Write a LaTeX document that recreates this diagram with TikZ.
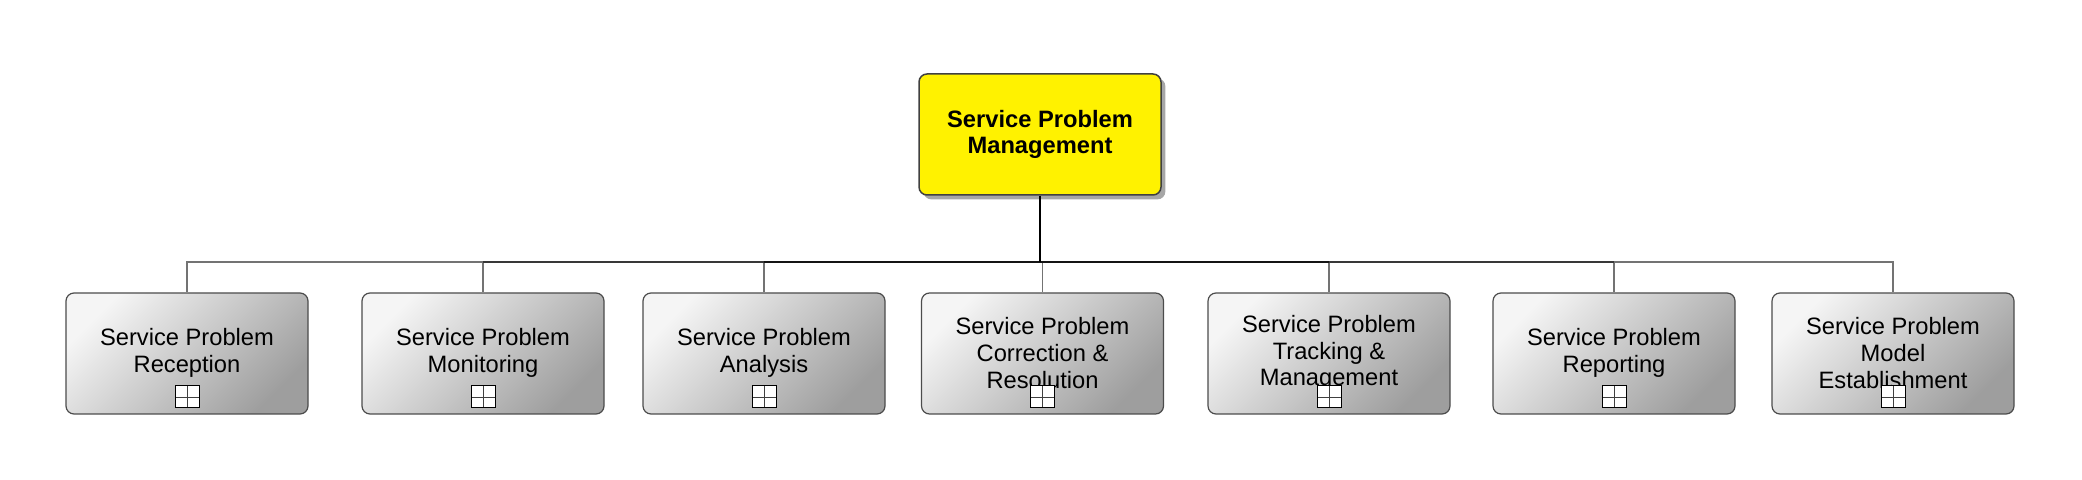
\documentclass[tikz,border=0pt]{standalone}
\usepackage{fontspec}
\setmainfont{Liberation Sans}
\usetikzlibrary{shadows}
\definecolor{boxyellow}{HTML}{FFF200}
\begin{document}
\begin{tikzpicture}[x=0.5pt,y=-0.5pt,
  lbl/.style={font=\fontsize{11.85}{13.3}\selectfont, align=center, inner sep=0pt, text=black},
  topbox/.style={draw=black!75, line width=0.75pt, rounded corners=4pt, fill=boxyellow,
    minimum width=121pt, minimum height=60.5pt, inner sep=0pt,
    drop shadow={shadow xshift=2.2pt, shadow yshift=-2.2pt, fill=black!35, opacity=1},
    font=\bfseries\fontsize{11.85}{13.3}\selectfont, align=center},
  childbox/.style={draw=black!70, line width=0.6pt, rounded corners=4pt,
    minimum width=121pt, minimum height=60.5pt, inner sep=0pt,
    top color=black!4, bottom color=black!38, shading angle=45},
  plusbox/.style={draw=black, line width=0.5pt, fill=white, minimum width=12pt, minimum height=11pt, inner sep=0pt,
    path picture={\draw[line width=0.35pt, black!75] (path picture bounding box.north) -- (path picture bounding box.south)
      (path picture bounding box.west) -- (path picture bounding box.east);}},
  conn/.style={draw=black!55, line width=0.7pt},
  bustwo/.style={draw=black!78, line width=1pt},
  busthree/.style={draw=black!92, line width=1pt},
  stem/.style={draw=black, line width=1pt}]
\useasboundingbox (0,0) rectangle (2082,480);
\node[topbox] (top) at (1040,134.5) {Service Problem\\Management};
\coordinate (bus) at (1040,262);
\foreach \n/\x/\t in {1/187/{Service Problem\\Reception},
                      2/483/{Service Problem\\Monitoring},
                      3/764/{Service Problem\\Analysis},
                      4/1042.5/{Service Problem\\Correction \&\\Resolution},
                      5/1329/{Service Problem\\Tracking \&\\Management},
                      6/1614/{Service Problem\\Reporting},
                      7/1893/{Service Problem\\Model\\Establishment}}{
  \node[childbox] (c\n) at (\x,353.5) {};
  \node[lbl] (c\n t) at (\x,353) {\t};
  \node[plusbox] (c\n p) at (\x,397) {};
  \draw[conn] (top.south) -- (top.south |- bus) -| (c\n.north);
}
\draw[bustwo] (c2.north |- bus) -- (c6.north |- bus);
\draw[busthree] (c3.north |- bus) -- (c5.north |- bus);
\draw[stem] (top.south) -- (top.south |- bus);
\end{tikzpicture}
\end{document}
